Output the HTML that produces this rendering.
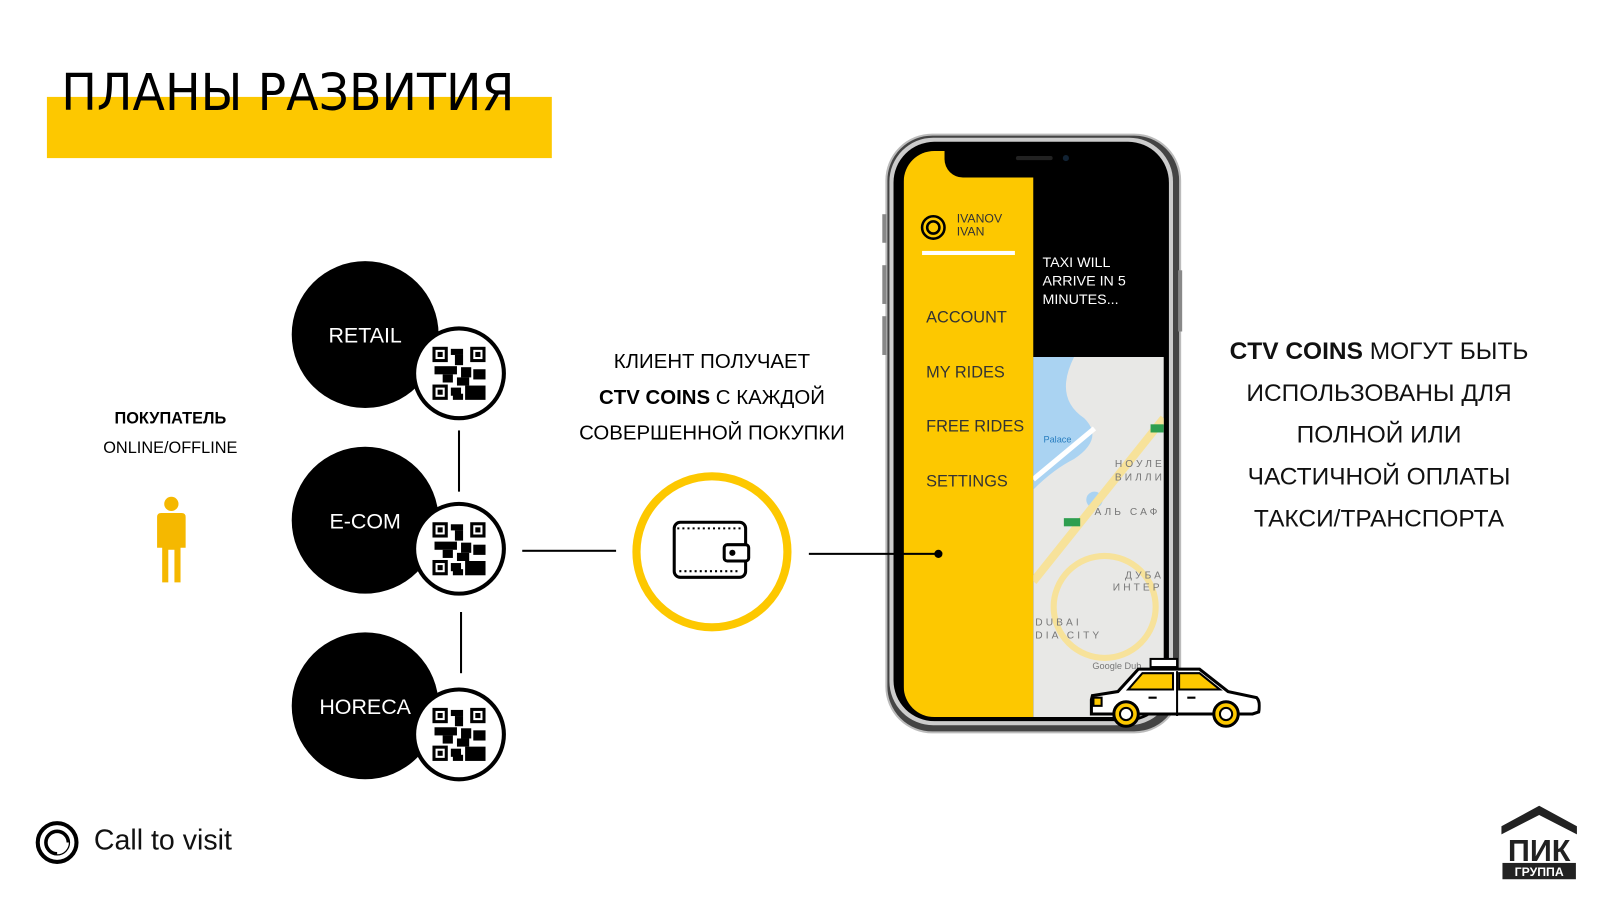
<!DOCTYPE html>
<html><head><meta charset="utf-8"><style>
html,body{margin:0;padding:0;background:#fff;overflow:hidden}
body{width:1600px;height:900px;position:relative}
#w{position:absolute;left:0;top:0;width:1560px;height:878px;transform:scale(1.02);transform-origin:0 0;font-family:"Liberation Sans","DejaVu Sans",sans-serif}
.a{position:absolute}
.c{position:absolute;border-radius:50%}
.t{position:absolute;white-space:nowrap}
</style></head><body><div id="w">
<div class="a" style="left:46px;top:95px;width:495px;height:60px;background:#fdc800"></div>
<div class="t" style="left:60px;top:62px;font-size:50px;color:#000;font-family:'DejaVu Sans',sans-serif;font-weight:normal;transform:scaleX(0.93);transform-origin:0 0">ПЛАНЫ РАЗВИТИЯ</div>

<div class="t" style="left:67px;top:402px;width:200px;text-align:center;font-size:16px;font-weight:bold">ПОКУПАТЕЛЬ</div>
<div class="t" style="left:67px;top:431px;width:200px;text-align:center;font-size:16px">ONLINE/OFFLINE</div>
<svg class="a" style="left:148px;top:486px" width="40" height="88" viewBox="0 0 40 88"><circle cx="20" cy="8" r="7" fill="#f5b800"/><path d="M10 17h20q4 0 4 4v30h-5v34h-6V53h-6v32h-6V51H6V21q0-4 4-4z" fill="#f5b800"/></svg>

<div class="a" style="left:449px;top:422px;width:2px;height:60px;background:#000"></div>
<div class="a" style="left:451px;top:600px;width:2px;height:60px;background:#000"></div>
<div class="a" style="left:512px;top:539px;width:92px;height:2px;background:#000"></div>

<svg class="a" style="left:280px;top:250px" width="240" height="530">
<defs><g id="qr"><circle r="44" fill="#fff" stroke="#000" stroke-width="4"/>
<g transform="translate(-26,-26)" fill="#000">
<rect x="0" y="0" width="15" height="15"/><rect x="3" y="3" width="9" height="9" fill="#fff"/><rect x="5" y="5" width="5" height="5"/>
<rect x="37" y="0" width="15" height="15"/><rect x="40" y="3" width="9" height="9" fill="#fff"/><rect x="42" y="5" width="5" height="5"/>
<rect x="0" y="37" width="15" height="15"/><rect x="3" y="40" width="9" height="9" fill="#fff"/><rect x="5" y="42" width="5" height="5"/>
<rect x="18" y="2" width="12" height="6"/><rect x="22" y="8" width="8" height="10"/><rect x="2" y="19" width="22" height="8"/><rect x="10" y="27" width="10" height="8"/><rect x="28" y="20" width="10" height="10"/><rect x="40" y="22" width="12" height="10"/><rect x="24" y="30" width="12" height="8"/><rect x="18" y="40" width="10" height="8"/><rect x="32" y="38" width="20" height="14"/><rect x="20" y="46" width="10" height="6"/>
</g></g></defs>
<circle cx="78" cy="78" r="72" fill="#000"/><use href="#qr" x="170" y="116"/>
<circle cx="78" cy="260" r="72" fill="#000"/><use href="#qr" x="170" y="288"/>
<circle cx="78" cy="442" r="72" fill="#000"/><use href="#qr" x="170" y="470"/>
<text x="78" y="86" fill="#fff" font-size="21" text-anchor="middle" font-family="Liberation Sans,sans-serif">RETAIL</text>
<text x="78" y="268" fill="#fff" font-size="21" text-anchor="middle" font-family="Liberation Sans,sans-serif">E-COM</text>
<text x="78" y="450" fill="#fff" font-size="21" text-anchor="middle" font-family="Liberation Sans,sans-serif">HORECA</text>
</svg>

<div class="t" style="left:548px;top:338px;width:300px;text-align:center;font-size:20px;line-height:35px">КЛИЕНТ ПОЛУЧАЕТ<br><b>CTV COINS</b> С КАЖДОЙ<br>СОВЕРШЕННОЙ ПОКУПКИ</div>

<div class="c" style="left:620px;top:463px;width:140px;height:140px;border:8px solid #fdc800"></div>
<svg class="a" style="left:658px;top:508px" width="80" height="64" viewBox="0 0 80 64"><rect x="3" y="4" width="70" height="54" rx="6" fill="none" stroke="#000" stroke-width="3"/><path d="M6 10h64" stroke="#000" stroke-width="2" stroke-dasharray="2 3"/><path d="M8 52h60" stroke="#000" stroke-width="2" stroke-dasharray="2 3"/><rect x="52" y="26" width="24" height="16" rx="3" fill="#fff" stroke="#000" stroke-width="3"/><circle cx="60" cy="34" r="3" fill="#000"/></svg>

<!-- phone -->
<div class="a" style="left:868px;top:131px;width:286px;height:584px;border-radius:46px;background:#444;border:2px solid #bbb"></div>
<div class="a" style="left:872px;top:135px;width:278px;height:576px;border-radius:43px;background:#ccc"></div>
<div class="a" style="left:876px;top:139px;width:270px;height:568px;border-radius:40px;background:#000"></div>
<div class="a" style="left:865px;top:210px;width:4px;height:28px;background:#888"></div>
<div class="a" style="left:865px;top:260px;width:4px;height:38px;background:#888"></div>
<div class="a" style="left:865px;top:310px;width:4px;height:38px;background:#888"></div>
<div class="a" style="left:1155px;top:265px;width:4px;height:60px;background:#888"></div>
<div class="a" style="left:886px;top:148px;width:255px;height:555px;border-radius:30px;overflow:hidden;background:#000">
  <div class="a" style="left:0;top:0;width:127px;height:555px;background:#fdc800"></div>
  <div class="a" style="left:40px;top:-4px;width:180px;height:30px;background:#000;border-radius:0 0 18px 18px"></div>
  <div class="a" style="left:127px;top:202px;width:128px;height:355px;background:#e8e8e6"></div>
  <svg class="a" style="left:127px;top:202px" width="128" height="355"><path d="M0 0h40q-20 40 10 60q20 20 -10 40q-20 10 -40 30z" fill="#aad3f2"/><circle cx="60" cy="140" r="8" fill="#aad3f2"/><path d="M0 220L128 60" stroke="#f7e29a" stroke-width="8"/><circle cx="70" cy="245" r="50" fill="none" stroke="#f7e29a" stroke-width="6"/><path d="M0 120L60 70" stroke="#fff" stroke-width="5"/><rect x="115" y="66" width="13" height="8" fill="#2e9e4f"/><rect x="30" y="158" width="16" height="8" fill="#2e9e4f"/><text x="10" y="84" font-size="9" fill="#2a7fc0" font-family="Liberation Sans,sans-serif">Palace</text><text x="80" y="108" font-size="10" fill="#777" letter-spacing="3" font-family="Liberation Sans,sans-serif">НОУЛЕ</text><text x="80" y="121" font-size="10" fill="#777" letter-spacing="3" font-family="Liberation Sans,sans-serif">ВИЛЛИ</text><text x="60" y="155" font-size="10" fill="#777" letter-spacing="3" font-family="Liberation Sans,sans-serif">АЛЬ САФ</text><text x="90" y="217" font-size="10" fill="#777" letter-spacing="3" font-family="Liberation Sans,sans-serif">ДУБА</text><text x="78" y="229" font-size="10" fill="#777" letter-spacing="3" font-family="Liberation Sans,sans-serif">ИНТЕР</text><text x="2" y="263" font-size="10" fill="#777" letter-spacing="3" font-family="Liberation Sans,sans-serif">DUBAI</text><text x="2" y="276" font-size="10" fill="#777" letter-spacing="3" font-family="Liberation Sans,sans-serif">DIA CITY</text><text x="58" y="306" font-size="9" fill="#777" font-family="Liberation Sans,sans-serif">Google Dub</text></svg>
  <svg class="a" style="left:16px;top:62px" width="26" height="26"><circle cx="13" cy="13" r="11" fill="none" stroke="#000" stroke-width="2.5"/><circle cx="13" cy="13" r="6" fill="none" stroke="#000" stroke-width="2.5"/></svg>
  <div class="t" style="left:52px;top:60px;font-size:12px;line-height:13px;color:#333">IVANOV<br>IVAN</div>
  <div class="a" style="left:18px;top:98px;width:91px;height:4px;background:#fff"></div>
  <div class="t" style="left:136px;top:100px;font-size:14px;line-height:18px;color:#fff">TAXI WILL<br>ARRIVE IN 5<br>MINUTES...</div>
  <div class="t" style="left:22px;top:155px;font-size:16px;color:#333">ACCOUNT</div>
  <div class="t" style="left:22px;top:209px;font-size:16px;color:#333">MY RIDES</div>
  <div class="t" style="left:22px;top:262px;font-size:16px;color:#333">FREE RIDES</div>
  <div class="t" style="left:22px;top:316px;font-size:16px;color:#333">SETTINGS</div>
</div>
<div class="a" style="left:996px;top:153px;width:36px;height:4px;border-radius:2px;background:#222"></div>
<div class="c" style="left:1042px;top:152px;width:6px;height:6px;background:#123"></div>

<div class="a" style="left:793px;top:542px;width:127px;height:2px;background:#000"></div>
<div class="c" style="left:916px;top:539px;width:8px;height:8px;background:#000"></div>

<!-- taxi -->
<svg class="a" style="left:1066px;top:642px" width="170" height="78" viewBox="0 0 170 78"><rect x="62" y="4" width="26" height="8" fill="#fff" stroke="#000" stroke-width="2"/><path d="M5 40l25-4 20-22h60l28 22 28 6q4 4 2 14l-6 2H4v-14z" fill="#fff" stroke="#000" stroke-width="3"/><path d="M40 34l14-16h30v16z" fill="#fdc800" stroke="#000" stroke-width="2"/><path d="M90 18h20l20 16H90z" fill="#fdc800" stroke="#000" stroke-width="2"/><path d="M88 16v44" stroke="#000" stroke-width="2"/><path d="M60 42h8M98 42h8" stroke="#000" stroke-width="2"/><circle cx="38" cy="58" r="12" fill="#fdc800" stroke="#000" stroke-width="3"/><circle cx="38" cy="58" r="6" fill="#fff" stroke="#000" stroke-width="2"/><circle cx="136" cy="58" r="12" fill="#fdc800" stroke="#000" stroke-width="3"/><circle cx="136" cy="58" r="6" fill="#fff" stroke="#000" stroke-width="2"/><rect x="6" y="42" width="8" height="8" fill="#fdc800" stroke="#000" stroke-width="2"/></svg>

<div class="t" style="left:1192px;top:324px;width:320px;text-align:center;font-size:24px;line-height:41px;color:#111"><b>CTV COINS</b> МОГУТ БЫТЬ<br>ИСПОЛЬЗОВАНЫ ДЛЯ<br>ПОЛНОЙ ИЛИ<br>ЧАСТИЧНОЙ ОПЛАТЫ<br>ТАКСИ/ТРАНСПОРТА</div>

<svg class="a" style="left:34px;top:804px" width="44" height="44"><circle cx="22" cy="22" r="19" fill="none" stroke="#000" stroke-width="4"/><circle cx="22" cy="22" r="11" fill="none" stroke="#000" stroke-width="3.5"/><path d="M31 22a9 9 0 0 1-9 9" stroke="#fff" stroke-width="5" fill="none"/></svg>
<div class="t" style="left:92px;top:808px;font-size:28px;color:#111">Call to visit</div>

<svg class="a" style="left:1470px;top:786px" width="78" height="78" viewBox="0 0 78 78"><path d="M2 24L39 4 76 24v8L39 13 2 32z" fill="#222"/><text x="39" y="58" font-size="30" font-weight="bold" text-anchor="middle" fill="#222" font-family="Liberation Sans,sans-serif">ПИК</text><rect x="3" y="60" width="72" height="16" fill="#222"/><text x="39" y="73" font-size="12" font-weight="bold" text-anchor="middle" fill="#fff" font-family="Liberation Sans,sans-serif">ГРУППА</text></svg>
</div></body></html>
